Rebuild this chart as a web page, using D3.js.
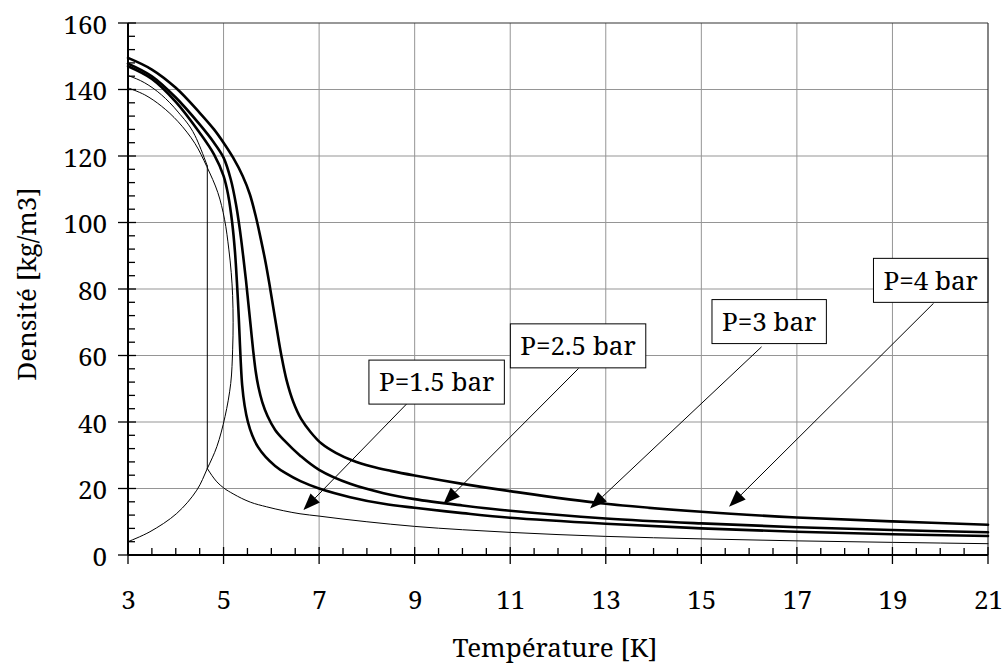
<!DOCTYPE html>
<html><head><meta charset="utf-8">
<script src="https://cdn.jsdelivr.net/npm/d3@7"></script>
<style>
html,body{margin:0;padding:0;background:#fff;}
svg{display:block;}
</style>
</head><body>
<svg id="chart" width="1002" height="665"></svg>
<script>
// ---------- data ----------
const xTicks = [3, 5, 7, 9, 11, 13, 15, 17, 19, 21];
const yTicks = [0, 20, 40, 60, 80, 100, 120, 140, 160];
const xTitle = "Température [K]";
const yTitle = "Densité [kg/m3]";

// saturation dome (vapour branch up to the critical point, then liquid branch back)
const satT   = [3.00, 3.46, 4.02, 4.44, 4.66, 4.86, 5.03, 5.15, 5.19, 5.20, 5.19, 5.16, 5.11, 5.02, 4.88, 4.65, 4.40, 4.05, 3.70, 3.35, 3.00];
const satRho = [4.0, 7.0, 12.5, 19.5, 26.0, 32.6, 41.6, 51.6, 61.7, 70.0, 78.0, 85.0, 92.0, 101.0, 109.0, 116.8, 123.8, 130.3, 135.0, 138.4, 140.5];

// P = 1.5 bar : liquid, boiling, gas
const p15LiqT   = [3.0, 3.35, 3.7, 4.05, 4.4, 4.66];
const p15LiqRho = [144.2, 142.0, 138.4, 133.2, 126.2, 117.0];
const p15BoilT   = [4.66, 4.66];
const p15BoilRho = [117.0, 26.0];
const p15GasT   = [4.66, 4.86, 5.0, 5.2, 5.56, 5.9, 6.26, 6.6, 7.0, 7.5, 8.0, 9.0, 10.0, 11.0, 13.0, 15.0, 17.0, 19.0, 21.0];
const p15GasRho = [26.0, 22.0, 20.2, 18.4, 15.9, 14.5, 13.3, 12.4, 11.7, 10.8, 10.0, 8.6, 7.6, 6.8, 5.6, 4.85, 4.25, 3.8, 3.4];

// P = 2.5 bar
const p25T   = [3.0, 3.5, 4.0, 4.5, 4.8, 5.0, 5.1, 5.18, 5.24, 5.28, 5.31, 5.335, 5.36, 5.39, 5.44, 5.51, 5.60, 5.72, 5.88, 6.08, 6.3, 6.61, 7.0, 7.65, 8.35, 9.0, 10.0, 11.0, 13.0, 15.0, 17.0, 19.0, 21.0];
const p25Rho = [147.0, 143.2, 136.3, 127.0, 120.5, 114.0, 108.0, 100.0, 91.0, 82.0, 74.0, 66.0, 58.0, 51.0, 45.0, 40.0, 36.0, 32.5, 29.5, 26.8, 24.6, 22.2, 20.0, 17.4, 15.4, 14.2, 12.6, 11.2, 9.4, 8.0, 7.0, 6.25, 5.7];

// P = 3 bar
const p3T   = [3.0, 3.5, 4.0, 4.5, 4.8, 5.0, 5.15, 5.26, 5.34, 5.41, 5.47, 5.52, 5.57, 5.62, 5.67, 5.73, 5.81, 5.92, 6.08, 6.26, 6.61, 7.0, 7.65, 8.35, 9.0, 10.0, 11.0, 13.0, 15.0, 17.0, 19.0, 21.0];
const p3Rho = [147.8, 144.0, 137.6, 129.5, 124.0, 119.5, 113.0, 105.5, 98.0, 90.0, 82.5, 75.5, 68.5, 61.5, 55.5, 50.5, 46.0, 41.8, 37.6, 34.6, 29.8, 25.6, 21.4, 18.6, 16.8, 14.9, 13.3, 11.0, 9.5, 8.35, 7.5, 6.85];

// P = 4 bar
const p4T   = [3.0, 3.5, 4.0, 4.5, 4.8, 5.0, 5.2, 5.4, 5.55, 5.68, 5.78, 5.88, 5.96, 6.04, 6.12, 6.21, 6.32, 6.46, 6.62, 6.82, 7.05, 7.35, 7.7, 8.1, 8.5, 9.0, 10.0, 11.0, 13.0, 15.0, 17.0, 19.0, 21.0];
const p4Rho = [149.5, 146.0, 140.5, 133.0, 128.0, 124.0, 119.5, 114.0, 108.5, 101.5, 95.0, 88.0, 81.5, 74.5, 67.5, 60.0, 52.5, 46.0, 41.0, 37.0, 33.5, 30.7, 28.4, 26.6, 25.3, 23.9, 21.4, 19.2, 15.4, 13.0, 11.3, 10.1, 9.1];

// annotations: label, box centre (T, rho), arrow start (T, rho), arrow tip (T, rho)
const annLabels = ["P=1.5 bar", "P=2.5 bar", "P=3 bar", "P=4 bar"];
const annBoxT   = [9.46, 12.42, 16.42, 19.80];
const annBoxRho = [52.0, 62.9, 70.2, 82.6];
const annFromT  = [8.83, 12.43, 16.26, 19.86];
const annFromRho= [45.4, 56.1, 62.6, 75.7];
const annToT    = [6.67, 9.60, 12.67, 15.58];
const annToRho  = [13.5, 15.3, 14.0, 14.5];

// ---------- layout ----------
const FF = "Noto Serif";
const FONT = 26;
const plot = {left: 128, right: 988, top: 23, bottom: 555};

const svg = d3.select("#chart").attr("font-family", FF);
svg.append("rect").attr("width", 1002).attr("height", 665).attr("fill", "#fff");
const x = d3.scaleLinear().domain([3, 21]).range([plot.left, plot.right]);
const y = d3.scaleLinear().domain([0, 160]).range([plot.bottom, plot.top]);

const xMinor = d3.range(3, 21.001, 0.5).filter(v => !xTicks.includes(v));
const yMinor = d3.range(0, 160.001, 4).filter(v => !yTicks.includes(v));

// gridlines and frame
const grid = svg.append("g");
grid.selectAll("line.vx").data(xTicks.slice(1, -1)).join("line")
  .attr("x1", d => x(d)).attr("x2", d => x(d))
  .attr("y1", plot.top).attr("y2", plot.bottom)
  .attr("stroke", "#959595").attr("stroke-width", 1);
grid.selectAll("line.hy").data(yTicks.slice(1, -1)).join("line")
  .attr("x1", plot.left).attr("x2", plot.right)
  .attr("y1", d => y(d)).attr("y2", d => y(d))
  .attr("stroke", "#959595").attr("stroke-width", 1);
grid.append("line").attr("x1", plot.left).attr("x2", plot.right).attr("y1", y(160)).attr("y2", y(160)).attr("stroke", "#333").attr("stroke-width", 1.2);
grid.append("line").attr("x1", x(21)).attr("x2", x(21)).attr("y1", plot.top).attr("y2", plot.bottom).attr("stroke", "#333").attr("stroke-width", 1.2);

// curves
const pts = (ts, rs) => ts.map((t, i) => [t, rs[i]]);
const lineMono = d3.line().x(d => x(d[0])).y(d => y(d[1])).curve(d3.curveMonotoneX);
const lineCR = d3.line().x(d => x(d[0])).y(d => y(d[1])).curve(d3.curveCatmullRom.alpha(0.5));
const lineLin = d3.line().x(d => x(d[0])).y(d => y(d[1]));

const curves = svg.append("g").attr("fill", "none").attr("stroke", "#000")
  .attr("stroke-linejoin", "round").attr("stroke-linecap", "round");
curves.append("path").attr("d", lineCR(pts(satT, satRho))).attr("stroke-width", 1);
curves.append("path").attr("d", lineMono(pts(p15LiqT, p15LiqRho))).attr("stroke-width", 1);
curves.append("path").attr("d", lineLin(pts(p15BoilT, p15BoilRho))).attr("stroke-width", 1);
curves.append("path").attr("d", lineMono(pts(p15GasT, p15GasRho))).attr("stroke-width", 1);
curves.append("path").attr("d", lineCR(pts(p25T, p25Rho))).attr("stroke-width", 2.6);
curves.append("path").attr("d", lineCR(pts(p3T, p3Rho))).attr("stroke-width", 2.6);
curves.append("path").attr("d", lineCR(pts(p4T, p4Rho))).attr("stroke-width", 2.6);

// axes (labels through d3 axis generators)
const yAxis = d3.axisLeft(y).tickValues(yTicks).tickSize(0).tickPadding(21).tickFormat(d3.format("d"));
const gy = svg.append("g").attr("transform", `translate(${plot.left},0)`).call(yAxis)
  .attr("font-family", FF).attr("font-size", FONT);
gy.select(".domain").remove();
gy.selectAll("text").attr("font-family", FF).attr("font-size", FONT).attr("fill", "#000").attr("dy", "0.4em");

const xAxis = d3.axisBottom(x).tickValues(xTicks).tickSize(0).tickPadding(36).tickFormat(d3.format("d"));
const gx = svg.append("g").attr("transform", `translate(0,${plot.bottom})`).call(xAxis)
  .attr("font-family", FF).attr("font-size", FONT);
gx.select(".domain").remove();
gx.selectAll("text").attr("font-family", FF).attr("font-size", FONT).attr("fill", "#000");

const ticks = svg.append("g").attr("stroke", "#000");
ticks.selectAll("line.ym").data(yTicks).join("line")
  .attr("x1", plot.left - 10).attr("x2", plot.left + 8)
  .attr("y1", d => y(d)).attr("y2", d => y(d)).attr("stroke-width", 1.3);
ticks.selectAll("line.yn").data(yMinor).join("line")
  .attr("x1", plot.left).attr("x2", plot.left + 7)
  .attr("y1", d => y(d)).attr("y2", d => y(d)).attr("stroke-width", 1.3);
ticks.selectAll("line.xm").data(xTicks).join("line")
  .attr("x1", d => x(d)).attr("x2", d => x(d))
  .attr("y1", plot.bottom - 8).attr("y2", plot.bottom + 9).attr("stroke-width", 1.3);
ticks.selectAll("line.xn").data(xMinor).join("line")
  .attr("x1", d => x(d)).attr("x2", d => x(d))
  .attr("y1", plot.bottom - 7).attr("y2", plot.bottom).attr("stroke-width", 1.3);
ticks.append("line").attr("x1", plot.left).attr("x2", plot.left).attr("y1", plot.top).attr("y2", plot.bottom).attr("stroke-width", 2);
ticks.append("line").attr("x1", plot.left).attr("x2", plot.right).attr("y1", plot.bottom).attr("y2", plot.bottom).attr("stroke-width", 2);

// axis titles
svg.append("text").attr("x", (plot.left + plot.right) / 2 - 3).attr("y", 657)
  .attr("text-anchor", "middle").attr("font-family", FF).attr("font-size", FONT).attr("fill", "#000").text(xTitle);
svg.append("text").attr("transform", `translate(36,${(plot.top + plot.bottom) / 2 - 5}) rotate(-90)`)
  .attr("text-anchor", "middle").attr("font-family", FF).attr("font-size", FONT).attr("fill", "#000").text(yTitle);

// annotations
const ann = svg.append("g");
annLabels.forEach((lab, i) => {
  const x0 = x(annFromT[i]), y0 = y(annFromRho[i]);
  const x1 = x(annToT[i]), y1 = y(annToRho[i]);
  const dx = x1 - x0, dy = y1 - y0, len = Math.hypot(dx, dy);
  const ux = dx / len, uy = dy / len;
  const headL = 17, headW = 6.5;
  const bx = x1 - ux * headL, by = y1 - uy * headL;
  ann.append("line").attr("x1", x0).attr("y1", y0).attr("x2", bx).attr("y2", by)
    .attr("stroke", "#000").attr("stroke-width", 1);
  ann.append("path")
    .attr("d", `M${x1},${y1}L${bx - uy * headW},${by + ux * headW}L${bx + uy * headW},${by - ux * headW}Z`)
    .attr("fill", "#000");
  const cx = x(annBoxT[i]), cy = y(annBoxRho[i]);
  const g = ann.append("g");
  const rect = g.append("rect").attr("fill", "#fff").attr("stroke", "#000").attr("stroke-width", 1);
  const t = g.append("text").attr("x", cx).attr("y", cy).attr("text-anchor", "middle")
    .attr("dy", "0.36em").attr("font-family", FF).attr("font-size", FONT).attr("fill", "#000").text(lab);
  let tw = t.node().getComputedTextLength();
  if (!(tw > 0)) tw = lab.length * FONT * 0.48;
  const bw = tw + 20, bh = 44;
  rect.attr("x", cx - bw / 2).attr("y", cy - bh / 2).attr("width", bw).attr("height", bh);
});
</script>
</body></html>
